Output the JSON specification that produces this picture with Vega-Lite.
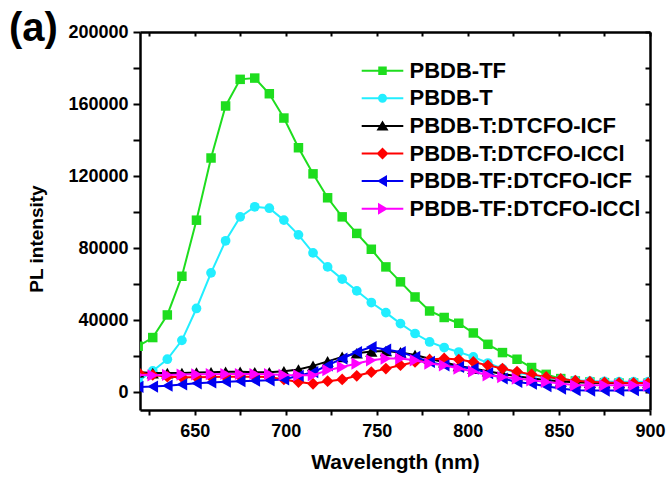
{
  "$schema": "https://vega.github.io/schema/vega-lite/v6.json",
  "width": 510,
  "height": 378,
  "autosize": "none",
  "padding": {"left": 140, "top": 32, "right": 21, "bottom": 67},
  "background": "white",
  "title": {"text": "(a)", "anchor": "start", "frame": "group", "orient": "top", "offset": 0, "dx": -131, "dy": 58, "baseline": "alphabetic", "font": "Liberation Sans", "fontSize": 40, "fontWeight": "bold", "color": "black"},
  "config": {
    "view": {"stroke": null}
  },
  "datasets": {
    "pl": [
      {"s":"PBDB-TF","wl":619,"v":25400},{"s":"PBDB-TF","wl":627,"v":30250},{"s":"PBDB-TF","wl":635,"v":42800},{"s":"PBDB-TF","wl":643,"v":64300},{"s":"PBDB-TF","wl":651,"v":95450},{"s":"PBDB-TF","wl":659,"v":130000},{"s":"PBDB-TF","wl":667,"v":158900},{"s":"PBDB-TF","wl":675,"v":173700},{"s":"PBDB-TF","wl":683,"v":174400},{"s":"PBDB-TF","wl":691,"v":165700},{"s":"PBDB-TF","wl":699,"v":152200},{"s":"PBDB-TF","wl":707,"v":135700},{"s":"PBDB-TF","wl":715,"v":121200},{"s":"PBDB-TF","wl":723,"v":107900},{"s":"PBDB-TF","wl":731,"v":97300},{"s":"PBDB-TF","wl":739,"v":88100},{"s":"PBDB-TF","wl":747,"v":79300},{"s":"PBDB-TF","wl":755,"v":69500},{"s":"PBDB-TF","wl":763,"v":61200},{"s":"PBDB-TF","wl":771,"v":52800},{"s":"PBDB-TF","wl":779,"v":45000},{"s":"PBDB-TF","wl":787,"v":41400},{"s":"PBDB-TF","wl":795,"v":38200},{"s":"PBDB-TF","wl":803,"v":32800},{"s":"PBDB-TF","wl":811,"v":26500},{"s":"PBDB-TF","wl":819,"v":21900},{"s":"PBDB-TF","wl":827,"v":18200},{"s":"PBDB-TF","wl":835,"v":13600},{"s":"PBDB-TF","wl":843,"v":9800},{"s":"PBDB-TF","wl":851,"v":7450},{"s":"PBDB-TF","wl":859,"v":6100},{"s":"PBDB-TF","wl":867,"v":5600},{"s":"PBDB-TF","wl":875,"v":5200},{"s":"PBDB-TF","wl":883,"v":5000},{"s":"PBDB-TF","wl":891,"v":5000},{"s":"PBDB-TF","wl":899,"v":5000},
      {"s":"PBDB-T","wl":619,"v":6000},{"s":"PBDB-T","wl":627,"v":11700},{"s":"PBDB-T","wl":635,"v":18200},{"s":"PBDB-T","wl":643,"v":28700},{"s":"PBDB-T","wl":651,"v":46400},{"s":"PBDB-T","wl":659,"v":66200},{"s":"PBDB-T","wl":667,"v":84000},{"s":"PBDB-T","wl":675,"v":97300},{"s":"PBDB-T","wl":683,"v":102900},{"s":"PBDB-T","wl":691,"v":102100},{"s":"PBDB-T","wl":699,"v":95500},{"s":"PBDB-T","wl":707,"v":87300},{"s":"PBDB-T","wl":715,"v":77300},{"s":"PBDB-T","wl":723,"v":69500},{"s":"PBDB-T","wl":731,"v":62700},{"s":"PBDB-T","wl":739,"v":56200},{"s":"PBDB-T","wl":747,"v":49700},{"s":"PBDB-T","wl":755,"v":44100},{"s":"PBDB-T","wl":763,"v":38000},{"s":"PBDB-T","wl":771,"v":32500},{"s":"PBDB-T","wl":779,"v":27800},{"s":"PBDB-T","wl":787,"v":24700},{"s":"PBDB-T","wl":795,"v":22200},{"s":"PBDB-T","wl":803,"v":19500},{"s":"PBDB-T","wl":811,"v":16100},{"s":"PBDB-T","wl":819,"v":13000},{"s":"PBDB-T","wl":827,"v":10800},{"s":"PBDB-T","wl":835,"v":9300},{"s":"PBDB-T","wl":843,"v":7900},{"s":"PBDB-T","wl":851,"v":7100},{"s":"PBDB-T","wl":859,"v":6500},{"s":"PBDB-T","wl":867,"v":6100},{"s":"PBDB-T","wl":875,"v":5900},{"s":"PBDB-T","wl":883,"v":5700},{"s":"PBDB-T","wl":891,"v":5700},{"s":"PBDB-T","wl":899,"v":5700},
      {"s":"PBDB-T:DTCFO-ICF","wl":619,"v":11000},{"s":"PBDB-T:DTCFO-ICF","wl":627,"v":10500},{"s":"PBDB-T:DTCFO-ICF","wl":635,"v":10500},{"s":"PBDB-T:DTCFO-ICF","wl":643,"v":10500},{"s":"PBDB-T:DTCFO-ICF","wl":651,"v":10800},{"s":"PBDB-T:DTCFO-ICF","wl":659,"v":11000},{"s":"PBDB-T:DTCFO-ICF","wl":667,"v":11200},{"s":"PBDB-T:DTCFO-ICF","wl":675,"v":11200},{"s":"PBDB-T:DTCFO-ICF","wl":683,"v":11000},{"s":"PBDB-T:DTCFO-ICF","wl":691,"v":11000},{"s":"PBDB-T:DTCFO-ICF","wl":699,"v":11500},{"s":"PBDB-T:DTCFO-ICF","wl":707,"v":12500},{"s":"PBDB-T:DTCFO-ICF","wl":715,"v":14500},{"s":"PBDB-T:DTCFO-ICF","wl":723,"v":17000},{"s":"PBDB-T:DTCFO-ICF","wl":731,"v":19500},{"s":"PBDB-T:DTCFO-ICF","wl":739,"v":21500},{"s":"PBDB-T:DTCFO-ICF","wl":747,"v":22500},{"s":"PBDB-T:DTCFO-ICF","wl":755,"v":22800},{"s":"PBDB-T:DTCFO-ICF","wl":763,"v":22000},{"s":"PBDB-T:DTCFO-ICF","wl":771,"v":20500},{"s":"PBDB-T:DTCFO-ICF","wl":779,"v":18500},{"s":"PBDB-T:DTCFO-ICF","wl":787,"v":16500},{"s":"PBDB-T:DTCFO-ICF","wl":795,"v":14500},{"s":"PBDB-T:DTCFO-ICF","wl":803,"v":13000},{"s":"PBDB-T:DTCFO-ICF","wl":811,"v":11500},{"s":"PBDB-T:DTCFO-ICF","wl":819,"v":10000},{"s":"PBDB-T:DTCFO-ICF","wl":827,"v":8800},{"s":"PBDB-T:DTCFO-ICF","wl":835,"v":7600},{"s":"PBDB-T:DTCFO-ICF","wl":843,"v":6600},{"s":"PBDB-T:DTCFO-ICF","wl":851,"v":5900},{"s":"PBDB-T:DTCFO-ICF","wl":859,"v":5400},{"s":"PBDB-T:DTCFO-ICF","wl":867,"v":5100},{"s":"PBDB-T:DTCFO-ICF","wl":875,"v":5000},{"s":"PBDB-T:DTCFO-ICF","wl":883,"v":5000},{"s":"PBDB-T:DTCFO-ICF","wl":891,"v":5000},{"s":"PBDB-T:DTCFO-ICF","wl":899,"v":5000},
      {"s":"PBDB-T:DTCFO-ICCl","wl":619,"v":11000},{"s":"PBDB-T:DTCFO-ICCl","wl":627,"v":9500},{"s":"PBDB-T:DTCFO-ICCl","wl":635,"v":8500},{"s":"PBDB-T:DTCFO-ICCl","wl":643,"v":8200},{"s":"PBDB-T:DTCFO-ICCl","wl":651,"v":8200},{"s":"PBDB-T:DTCFO-ICCl","wl":659,"v":8300},{"s":"PBDB-T:DTCFO-ICCl","wl":667,"v":8500},{"s":"PBDB-T:DTCFO-ICCl","wl":675,"v":8500},{"s":"PBDB-T:DTCFO-ICCl","wl":683,"v":8500},{"s":"PBDB-T:DTCFO-ICCl","wl":691,"v":8300},{"s":"PBDB-T:DTCFO-ICCl","wl":699,"v":7000},{"s":"PBDB-T:DTCFO-ICCl","wl":707,"v":5500},{"s":"PBDB-T:DTCFO-ICCl","wl":715,"v":4600},{"s":"PBDB-T:DTCFO-ICCl","wl":723,"v":6000},{"s":"PBDB-T:DTCFO-ICCl","wl":731,"v":7000},{"s":"PBDB-T:DTCFO-ICCl","wl":739,"v":9000},{"s":"PBDB-T:DTCFO-ICCl","wl":747,"v":11000},{"s":"PBDB-T:DTCFO-ICCl","wl":755,"v":13000},{"s":"PBDB-T:DTCFO-ICCl","wl":763,"v":14900},{"s":"PBDB-T:DTCFO-ICCl","wl":771,"v":16700},{"s":"PBDB-T:DTCFO-ICCl","wl":779,"v":18000},{"s":"PBDB-T:DTCFO-ICCl","wl":787,"v":18600},{"s":"PBDB-T:DTCFO-ICCl","wl":795,"v":18000},{"s":"PBDB-T:DTCFO-ICCl","wl":803,"v":16700},{"s":"PBDB-T:DTCFO-ICCl","wl":811,"v":14800},{"s":"PBDB-T:DTCFO-ICCl","wl":819,"v":13000},{"s":"PBDB-T:DTCFO-ICCl","wl":827,"v":11300},{"s":"PBDB-T:DTCFO-ICCl","wl":835,"v":9800},{"s":"PBDB-T:DTCFO-ICCl","wl":843,"v":8400},{"s":"PBDB-T:DTCFO-ICCl","wl":851,"v":7200},{"s":"PBDB-T:DTCFO-ICCl","wl":859,"v":6300},{"s":"PBDB-T:DTCFO-ICCl","wl":867,"v":5700},{"s":"PBDB-T:DTCFO-ICCl","wl":875,"v":5300},{"s":"PBDB-T:DTCFO-ICCl","wl":883,"v":5100},{"s":"PBDB-T:DTCFO-ICCl","wl":891,"v":5000},{"s":"PBDB-T:DTCFO-ICCl","wl":899,"v":5000},
      {"s":"PBDB-TF:DTCFO-ICF","wl":619,"v":2800},{"s":"PBDB-TF:DTCFO-ICF","wl":627,"v":3000},{"s":"PBDB-TF:DTCFO-ICF","wl":635,"v":3500},{"s":"PBDB-TF:DTCFO-ICF","wl":643,"v":4200},{"s":"PBDB-TF:DTCFO-ICF","wl":651,"v":4800},{"s":"PBDB-TF:DTCFO-ICF","wl":659,"v":5300},{"s":"PBDB-TF:DTCFO-ICF","wl":667,"v":5700},{"s":"PBDB-TF:DTCFO-ICF","wl":675,"v":6000},{"s":"PBDB-TF:DTCFO-ICF","wl":683,"v":6300},{"s":"PBDB-TF:DTCFO-ICF","wl":691,"v":6500},{"s":"PBDB-TF:DTCFO-ICF","wl":699,"v":7000},{"s":"PBDB-TF:DTCFO-ICF","wl":707,"v":9000},{"s":"PBDB-TF:DTCFO-ICF","wl":715,"v":11000},{"s":"PBDB-TF:DTCFO-ICF","wl":723,"v":14800},{"s":"PBDB-TF:DTCFO-ICF","wl":731,"v":18600},{"s":"PBDB-TF:DTCFO-ICF","wl":739,"v":22200},{"s":"PBDB-TF:DTCFO-ICF","wl":747,"v":25000},{"s":"PBDB-TF:DTCFO-ICF","wl":755,"v":23600},{"s":"PBDB-TF:DTCFO-ICF","wl":763,"v":22200},{"s":"PBDB-TF:DTCFO-ICF","wl":771,"v":19500},{"s":"PBDB-TF:DTCFO-ICF","wl":779,"v":16700},{"s":"PBDB-TF:DTCFO-ICF","wl":787,"v":14800},{"s":"PBDB-TF:DTCFO-ICF","wl":795,"v":13900},{"s":"PBDB-TF:DTCFO-ICF","wl":803,"v":13000},{"s":"PBDB-TF:DTCFO-ICF","wl":811,"v":10500},{"s":"PBDB-TF:DTCFO-ICF","wl":819,"v":7500},{"s":"PBDB-TF:DTCFO-ICF","wl":827,"v":5600},{"s":"PBDB-TF:DTCFO-ICF","wl":835,"v":4600},{"s":"PBDB-TF:DTCFO-ICF","wl":843,"v":3200},{"s":"PBDB-TF:DTCFO-ICF","wl":851,"v":1900},{"s":"PBDB-TF:DTCFO-ICF","wl":859,"v":1000},{"s":"PBDB-TF:DTCFO-ICF","wl":867,"v":800},{"s":"PBDB-TF:DTCFO-ICF","wl":875,"v":800},{"s":"PBDB-TF:DTCFO-ICF","wl":883,"v":800},{"s":"PBDB-TF:DTCFO-ICF","wl":891,"v":1000},{"s":"PBDB-TF:DTCFO-ICF","wl":899,"v":1000},
      {"s":"PBDB-TF:DTCFO-ICCl","wl":619,"v":9500},{"s":"PBDB-TF:DTCFO-ICCl","wl":627,"v":9300},{"s":"PBDB-TF:DTCFO-ICCl","wl":635,"v":9500},{"s":"PBDB-TF:DTCFO-ICCl","wl":643,"v":9700},{"s":"PBDB-TF:DTCFO-ICCl","wl":651,"v":9800},{"s":"PBDB-TF:DTCFO-ICCl","wl":659,"v":9900},{"s":"PBDB-TF:DTCFO-ICCl","wl":667,"v":10000},{"s":"PBDB-TF:DTCFO-ICCl","wl":675,"v":10000},{"s":"PBDB-TF:DTCFO-ICCl","wl":683,"v":10000},{"s":"PBDB-TF:DTCFO-ICCl","wl":691,"v":9900},{"s":"PBDB-TF:DTCFO-ICCl","wl":699,"v":9500},{"s":"PBDB-TF:DTCFO-ICCl","wl":707,"v":9300},{"s":"PBDB-TF:DTCFO-ICCl","wl":715,"v":9300},{"s":"PBDB-TF:DTCFO-ICCl","wl":723,"v":12100},{"s":"PBDB-TF:DTCFO-ICCl","wl":731,"v":13900},{"s":"PBDB-TF:DTCFO-ICCl","wl":739,"v":15800},{"s":"PBDB-TF:DTCFO-ICCl","wl":747,"v":17600},{"s":"PBDB-TF:DTCFO-ICCl","wl":755,"v":18600},{"s":"PBDB-TF:DTCFO-ICCl","wl":763,"v":18600},{"s":"PBDB-TF:DTCFO-ICCl","wl":771,"v":17600},{"s":"PBDB-TF:DTCFO-ICCl","wl":779,"v":15800},{"s":"PBDB-TF:DTCFO-ICCl","wl":787,"v":14800},{"s":"PBDB-TF:DTCFO-ICCl","wl":795,"v":13000},{"s":"PBDB-TF:DTCFO-ICCl","wl":803,"v":11400},{"s":"PBDB-TF:DTCFO-ICCl","wl":811,"v":9300},{"s":"PBDB-TF:DTCFO-ICCl","wl":819,"v":8300},{"s":"PBDB-TF:DTCFO-ICCl","wl":827,"v":7450},{"s":"PBDB-TF:DTCFO-ICCl","wl":835,"v":6500},{"s":"PBDB-TF:DTCFO-ICCl","wl":843,"v":5600},{"s":"PBDB-TF:DTCFO-ICCl","wl":851,"v":4700},{"s":"PBDB-TF:DTCFO-ICCl","wl":859,"v":3700},{"s":"PBDB-TF:DTCFO-ICCl","wl":867,"v":3700},{"s":"PBDB-TF:DTCFO-ICCl","wl":875,"v":3700},{"s":"PBDB-TF:DTCFO-ICCl","wl":883,"v":3700},{"s":"PBDB-TF:DTCFO-ICCl","wl":891,"v":3700},{"s":"PBDB-TF:DTCFO-ICCl","wl":899,"v":3700}
    ]
  },
  "data": {"name": "pl"},
  "encoding": {
    "x": {"field": "wl", "type": "quantitative", "scale": {"domain": [620, 900], "nice": false, "zero": false}, "axis": null},
    "y": {"field": "v", "type": "quantitative", "scale": {"domain": [-10000, 200000], "nice": false, "zero": false}, "axis": null},
    "color": {"field": "s", "type": "nominal", "scale": {"domain": ["PBDB-TF", "PBDB-T", "PBDB-T:DTCFO-ICF", "PBDB-T:DTCFO-ICCl", "PBDB-TF:DTCFO-ICF", "PBDB-TF:DTCFO-ICCl"], "range": ["#1EDD1E", "#22EEFF", "#000000", "#FF0000", "#0000F0", "#FF00FF"]}}
  },
  "layer": [
    {
      "mark": {"type": "point", "filled": true, "size": 100, "opacity": 0},
      "encoding": {
        "x": {"field": "wl", "type": "quantitative", "scale": {"domain": [620, 900], "nice": false, "zero": false},
          "axis": {"orient": "top", "values": [625, 650, 675, 700, 725, 750, 775, 800, 825, 850, 875, 900], "labels": false, "title": null, "grid": false, "tickSize": -4, "tickWidth": 2, "tickColor": "black", "domainColor": "black", "domainWidth": 2.5}},
        "y": {"field": "v", "type": "quantitative", "scale": {"domain": [-10000, 200000], "nice": false, "zero": false},
          "axis": {"orient": "right", "values": [0, 20000, 40000, 60000, 80000, 100000, 120000, 140000, 160000, 180000, 200000], "labels": false, "title": null, "grid": false, "tickSize": -5, "tickWidth": 2, "tickColor": "black", "domainColor": "black", "domainWidth": 2.5}},
        "color": {"field": "s", "type": "nominal", "scale": {"domain": ["PBDB-TF", "PBDB-T", "PBDB-T:DTCFO-ICF", "PBDB-T:DTCFO-ICCl", "PBDB-TF:DTCFO-ICF", "PBDB-TF:DTCFO-ICCl"], "range": ["#1EDD1E", "#22EEFF", "#000000", "#FF0000", "#0000F0", "#FF00FF"]},
          "legend": {"title": null, "orient": "none", "legendX": 231.5, "legendY": 27.7, "symbolSize": 100, "symbolStrokeWidth": 0, "symbolOpacity": 1, "labelFont": "Liberation Sans", "labelFontSize": 22, "labelFontWeight": "bold", "labelColor": "black", "labelLimit": 400, "labelOffset": 16, "rowPadding": 5.6, "padding": 0}},
        "shape": {"field": "s", "type": "nominal", "scale": {"domain": ["PBDB-TF", "PBDB-T", "PBDB-T:DTCFO-ICF", "PBDB-T:DTCFO-ICCl", "PBDB-TF:DTCFO-ICF", "PBDB-TF:DTCFO-ICCl"], "range": [
          "M-4.16,-0.2L4.16,-0.2L4.16,0.2L-4.16,0.2ZM-0.85,-0.85L0.85,-0.85L0.85,0.85L-0.85,0.85Z",
          "M-4.16,-0.2L4.16,-0.2L4.16,0.2L-4.16,0.2ZM-0.9,0A0.9,0.9,0,1,1,0.9,0A0.9,0.9,0,1,1,-0.9,0Z",
          "M-4.16,-0.2L4.16,-0.2L4.16,0.2L-4.16,0.2ZM0,-1.1L1.2,0.9L-1.2,0.9Z",
          "M-4.16,-0.2L4.16,-0.2L4.16,0.2L-4.16,0.2ZM0,-1.2L1.2,0L0,1.2L-1.2,0Z",
          "M-4.16,-0.2L4.16,-0.2L4.16,0.2L-4.16,0.2ZM-1.1,0L0.9,-1.2L0.9,1.2Z",
          "M-4.16,-0.2L4.16,-0.2L4.16,0.2L-4.16,0.2ZM1.1,0L-0.9,1.2L-0.9,-1.2Z"
        ]},
          "legend": {"title": null, "orient": "none", "legendX": 231.5, "legendY": 27.7, "symbolSize": 100, "symbolStrokeWidth": 0, "symbolOpacity": 1, "labelFont": "Liberation Sans", "labelFontSize": 22, "labelFontWeight": "bold", "labelColor": "black", "labelLimit": 400, "labelOffset": 16, "rowPadding": 5.6, "padding": 0}}
      }
    },
    {
      "transform": [{"filter": "datum.s === 'PBDB-TF'"}],
      "mark": {"type": "line", "strokeWidth": 2, "clip": true, "point": {"filled": true, "shape": "square", "size": 90, "opacity": 1, "clip": true}},
      "encoding": {
        "x": {"field": "wl", "type": "quantitative", "scale": {"domain": [620, 900], "nice": false, "zero": false},
          "axis": {"orient": "bottom", "values": [625, 650, 675, 700, 725, 750, 775, 800, 825, 850, 875, 900], "labelExpr": "datum.value % 50 === 0 ? datum.label : ''", "format": "d", "grid": false, "title": "Wavelength (nm)", "titleFont": "Liberation Sans", "titleFontSize": 21, "titleFontWeight": "bold", "titleColor": "black", "titleY": 58, "titleBaseline": "alphabetic", "labelFont": "Liberation Sans", "labelFontSize": 18, "labelFontWeight": "bold", "labelColor": "black", "labelPadding": 7, "labelFlush": false, "labelOverlap": false, "tickSize": 5, "tickWidth": 2, "tickColor": "black", "domainColor": "black", "domainWidth": 2.5}},
        "y": {"field": "v", "type": "quantitative", "scale": {"domain": [-10000, 200000], "nice": false, "zero": false},
          "axis": {"orient": "left", "values": [0, 20000, 40000, 60000, 80000, 100000, 120000, 140000, 160000, 180000, 200000], "labelExpr": "datum.value % 40000 === 0 ? datum.label : ''", "format": "d", "grid": false, "title": "PL intensity", "titleFont": "Liberation Sans", "titleFontSize": 19, "titleFontWeight": "bold", "titleColor": "black", "titleX": -97.5, "titleY": 206.5, "titleBaseline": "alphabetic", "labelFont": "Liberation Sans", "labelFontSize": 18, "labelFontWeight": "bold", "labelColor": "black", "labelPadding": 5, "labelOverlap": false, "tickSize": 7, "tickWidth": 2, "tickColor": "black", "domainColor": "black", "domainWidth": 2.5}}
      }
    },
    {
      "transform": [{"filter": "datum.s === 'PBDB-T'"}],
      "mark": {"type": "line", "strokeWidth": 2, "clip": true, "point": {"filled": true, "shape": "circle", "size": 95, "opacity": 1, "clip": true}}
    },
    {
      "transform": [{"filter": "datum.s === 'PBDB-T:DTCFO-ICF'"}],
      "mark": {"type": "line", "strokeWidth": 2, "clip": true, "point": {"filled": true, "shape": "triangle-up", "size": 150, "opacity": 1, "clip": true}}
    },
    {
      "transform": [{"filter": "datum.s === 'PBDB-T:DTCFO-ICCl'"}],
      "mark": {"type": "line", "strokeWidth": 2, "clip": true, "point": {"filled": true, "shape": "diamond", "size": 140, "opacity": 1, "clip": true}}
    },
    {
      "transform": [{"filter": "datum.s === 'PBDB-TF:DTCFO-ICF'"}],
      "mark": {"type": "line", "strokeWidth": 2, "clip": true, "point": {"filled": true, "shape": "triangle-left", "size": 150, "opacity": 1, "clip": true}}
    },
    {
      "transform": [{"filter": "datum.s === 'PBDB-TF:DTCFO-ICCl'"}],
      "mark": {"type": "line", "strokeWidth": 2, "clip": true, "point": {"filled": true, "shape": "triangle-right", "size": 150, "opacity": 1, "clip": true}}
    }
  ],
  "resolve": {"axis": {"x": "independent", "y": "independent"}}
}
